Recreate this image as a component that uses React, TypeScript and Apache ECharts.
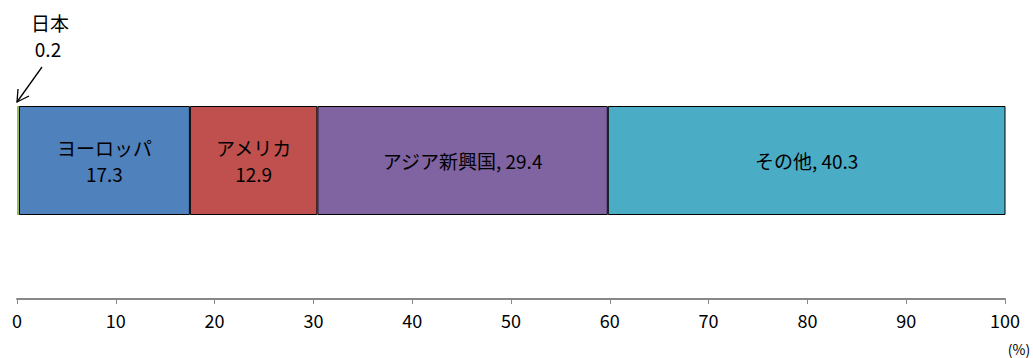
import React, { useEffect, useRef } from "react";
import * as echarts from "echarts";

const regions = ["日本", "ヨーロッパ", "アメリカ", "アジア新興国", "その他"];
const shares = [0.2, 17.3, 12.9, 29.4, 40.3];
const colors = ["#9BBB59", "#4F81BD", "#C0504D", "#8064A2", "#4BACC6"];
const labelFormats = ["", "{a}\n{v}", "{a}\n{v}", "{a}, {v}", "{a}, {v}"];
const tickValues = [0, 10, 20, 30, 40, 50, 60, 70, 80, 90, 100];

const FONT = "'Noto Sans CJK JP', 'Noto Sans', sans-serif";

export default function App() {
  const ref = useRef<HTMLDivElement>(null);

  useEffect(() => {
    if (!ref.current) return;
    document.body.style.margin = "0";
    const chart = echarts.init(ref.current, undefined, { renderer: "svg" });

    const series = regions.map((name, i) => ({
      name,
      type: "bar",
      stack: "total",
      barWidth: 109,
      data: [shares[i]],
      itemStyle:
        i === 0
          ? { color: colors[i], borderWidth: 0 }
          : { color: colors[i], borderColor: "#000", borderWidth: 1 },
      label: {
        show: labelFormats[i] !== "",
        position: "inside",
        color: "#000",
        fontSize: 19,
        lineHeight: 26,
        fontFamily: FONT,
        formatter: () =>
          labelFormats[i].replace("{a}", name).replace("{v}", shares[i].toFixed(1)),
      },
    }));

    chart.setOption({
      animation: false,
      grid: { left: 17, right: 28, top: 106, height: 109 },
      xAxis: {
        type: "value",
        min: tickValues[0],
        max: tickValues[tickValues.length - 1],
        interval: 10,
        position: "bottom",
        offset: 84,
        splitLine: { show: false },
        axisLine: { show: true, lineStyle: { color: "#888", width: 2 } },
        axisTick: { show: true, length: 5, lineStyle: { color: "#888", width: 1 } },
        axisLabel: { color: "#000", fontSize: 18, fontFamily: FONT, margin: 12 },
      },
      yAxis: {
        type: "category",
        data: [""],
        show: false,
      },
      series,
      graphic: [
        {
          type: "text",
          x: 50,
          y: 22,
          style: {
            text: regions[0],
            fontSize: 19,
            fontFamily: FONT,
            fill: "#000",
            align: "center",
            verticalAlign: "middle",
          },
        },
        {
          type: "text",
          x: 48,
          y: 48,
          style: {
            text: shares[0].toFixed(1),
            fontSize: 19,
            fontFamily: FONT,
            fill: "#000",
            align: "center",
            verticalAlign: "middle",
          },
        },
        {
          type: "line",
          shape: { x1: 42, y1: 67, x2: 17, y2: 102 },
          style: { stroke: "#000", lineWidth: 1.3 },
        },
        {
          type: "polyline",
          shape: { points: [[18, 89], [17, 102], [29, 96]] },
          style: { stroke: "#000", lineWidth: 1.3, fill: "none" },
        },
        {
          type: "text",
          x: 1019,
          y: 349,
          style: {
            text: "(%)",
            fontSize: 14,
            fontFamily: FONT,
            fill: "#000",
            align: "center",
            verticalAlign: "middle",
          },
        },
      ],
    });

    return () => chart.dispose();
  }, []);

  return <div ref={ref} style={{ width: 1033, height: 358 }} />;
}
